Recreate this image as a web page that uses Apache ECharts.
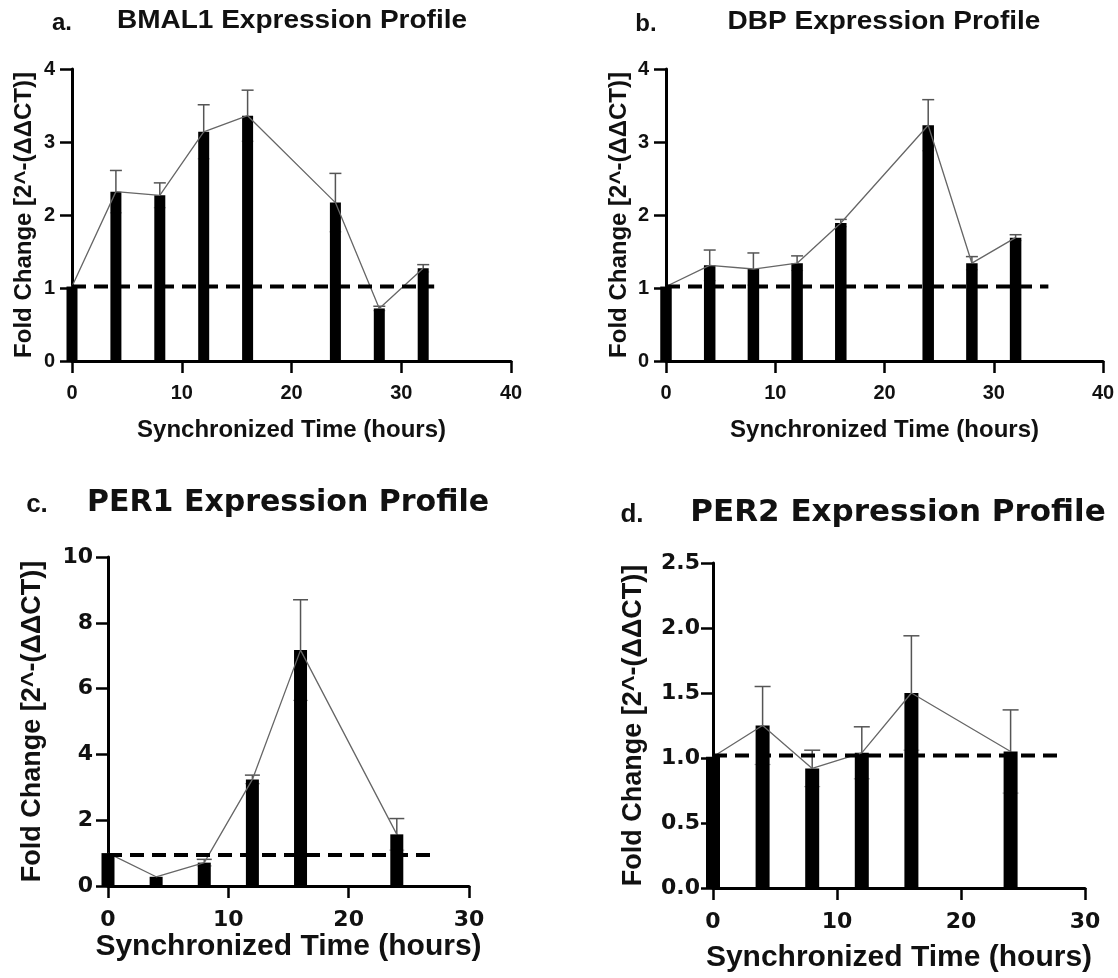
<!DOCTYPE html>
<html>
<head>
<meta charset="utf-8">
<script src="https://cdn.jsdelivr.net/npm/echarts@6/dist/echarts.min.js"></script>
<style>
html,body{margin:0;padding:0;background:#fff;}
#chart{width:1118px;height:978px;}
</style>
</head>
<body>
<div id="chart"></div>
<script>
// ---------- DATA ----------
const xAxisTitle = "Synchronized Time (hours)";
const yAxisTitle = "Fold Change [2^-(\u0394\u0394CT)]";

const letterA = "a.", titleA = "BMAL1 Expression Profile";
const timesA = [0, 4, 8, 12, 16, 24, 28, 32];
const meanA  = [1.02, 2.32, 2.27, 3.14, 3.36, 2.17, 0.72, 1.27];
const errA   = [0, 0.29, 0.17, 0.37, 0.35, 0.40, 0.03, 0.05];
const refA   = [[0, 1.02], [33, 1.02]];

const letterB = "b.", titleB = "DBP Expression Profile";
const timesB = [0, 4, 8, 12, 16, 24, 28, 32];
const meanB  = [1.02, 1.31, 1.26, 1.34, 1.89, 3.23, 1.34, 1.69];
const errB   = [0, 0.21, 0.22, 0.10, 0.05, 0.35, 0.09, 0.04];
const refB   = [[0, 1.02], [35, 1.02]];

const letterC = "c.", titleC = "PER1 Expression Profile";
const timesC = [0, 4, 8, 12, 16, 24];
const meanC  = [1.0, 0.28, 0.71, 3.24, 7.17, 1.57];
const errC   = [0, 0, 0.10, 0.13, 1.53, 0.48];
const refC   = [[0, 0.94], [27, 0.94]];

const letterD = "d.", titleD = "PER2 Expression Profile";
const timesD = [0, 4, 8, 12, 16, 24];
const meanD  = [1.01, 1.25, 0.92, 1.04, 1.50, 1.05];
const errD   = [0, 0.30, 0.14, 0.20, 0.44, 0.32];
const refD   = [[0, 1.02], [28, 1.02]];

// ---------- LAYOUT ----------
const ARIAL = "'Liberation Sans', Arial, sans-serif";
const DEJA = "'DejaVu Sans', Verdana, sans-serif";

const panels = [
  {times: timesA, mean: meanA, err: errA, ref: refA,
   grid: {left: 72, top: 69, width: 439, height: 292},
   xMax: 40, yMax: 4, yInt: 1, yFmt: v => String(v),
   barW: 11, capW: 12, tickFont: 20, tickFam: ARIAL, nameFont: 24, xNameFont: 24,
   yLabMargin: 17, xLabMargin: 22, yNameGap: 36, xNameGap: 57},
  {times: timesB, mean: meanB, err: errB, ref: refB,
   grid: {left: 666, top: 69, width: 437, height: 292},
   xMax: 40, yMax: 4, yInt: 1, yFmt: v => String(v),
   barW: 11.5, capW: 12, tickFont: 20, tickFam: ARIAL, nameFont: 24, xNameFont: 24,
   yLabMargin: 17, xLabMargin: 22, yNameGap: 35, xNameGap: 57},
  {times: timesC, mean: meanC, err: errC, ref: refC,
   grid: {left: 108, top: 557, width: 361, height: 329},
   xMax: 30, yMax: 10, yInt: 2, yFmt: v => String(v),
   barW: 13, capW: 15, tickFont: 22, tickFam: DEJA, nameFont: 27, xNameFont: 30,
   yLabMargin: 15, xLabMargin: 23, yNameGap: 62, xNameGap: 42},
  {times: timesD, mean: meanD, err: errD, ref: refD,
   grid: {left: 713, top: 563, width: 372, height: 325},
   xMax: 30, yMax: 2.5, yInt: 0.5, yFmt: v => v.toFixed(1),
   barW: 14, capW: 16, tickFont: 22, tickFam: DEJA, nameFont: 27, xNameFont: 30,
   yLabMargin: 13, xLabMargin: 23, yNameGap: 66, xNameGap: 55}
];

const grids = [], xAxes = [], yAxes = [], series = [];
panels.forEach((p, i) => {
  grids.push(Object.assign({containLabel: false}, p.grid));
  const axisLine = {show: true, onZero: false, lineStyle: {color: '#000', width: 3}};
  const axisTick = {show: true, length: 12, lineStyle: {color: '#000', width: 2.5}};
  xAxes.push({
    type: 'value', gridIndex: i, min: 0, max: p.xMax, interval: 10,
    axisLine, axisTick, splitLine: {show: false},
    axisLabel: {color: '#111', fontFamily: p.tickFam, fontWeight: 'bold', fontSize: p.tickFont, margin: p.xLabMargin},
    name: xAxisTitle, nameLocation: 'middle', nameGap: p.xNameGap,
    nameTextStyle: {color: '#111', fontFamily: ARIAL, fontWeight: 'bold', fontSize: p.xNameFont}
  });
  yAxes.push({
    type: 'value', gridIndex: i, min: 0, max: p.yMax, interval: p.yInt,
    axisLine, axisTick, splitLine: {show: false},
    axisLabel: {color: '#111', fontFamily: p.tickFam, fontWeight: 'bold', fontSize: p.tickFont, margin: p.yLabMargin, formatter: p.yFmt},
    name: yAxisTitle, nameLocation: 'middle', nameGap: p.yNameGap,
    nameTextStyle: {color: '#111', fontFamily: ARIAL, fontWeight: 'bold', fontSize: p.nameFont}
  });
  const pts = p.times.map((t, k) => [t, p.mean[k]]);
  const errPts = p.times.map((t, k) => [t, p.mean[k], p.err[k]]);
  const capW = p.capW;
  series.push({
    type: 'custom', xAxisIndex: i, yAxisIndex: i, z: 1, clip: false,
    data: errPts, silent: true,
    renderItem: function (params, api) {
      const x = api.value(0), m = api.value(1), e = api.value(2);
      if (!e) return null;
      const top = api.coord([x, m + e]);
      const bot = api.coord([x, m - e]);
      const hw = capW / 2;
      const st = {stroke: '#555', lineWidth: 1.5};
      return {type: 'group', children: [
        {type: 'line', shape: {x1: top[0], y1: top[1], x2: bot[0], y2: bot[1]}, style: st},
        {type: 'line', shape: {x1: top[0] - hw, y1: top[1], x2: top[0] + hw, y2: top[1]}, style: st},
        {type: 'line', shape: {x1: bot[0] - hw, y1: bot[1], x2: bot[0] + hw, y2: bot[1]}, style: {stroke: '#aaa', lineWidth: 1.2}}
      ]};
    }
  });
  series.push({
    type: 'bar', xAxisIndex: i, yAxisIndex: i, z: 2, clip: false,
    data: pts, barWidth: p.barW, itemStyle: {color: '#000'}, silent: true
  });
  series.push({
    type: 'line', xAxisIndex: i, yAxisIndex: i, z: 3, clip: false,
    data: pts, showSymbol: false, symbol: 'none',
    lineStyle: {color: '#666', width: 1.3}, silent: true
  });
  series.push({
    type: 'line', xAxisIndex: i, yAxisIndex: i, z: 4, clip: false,
    data: p.ref, showSymbol: false, symbol: 'none',
    lineStyle: {color: '#000', width: 4, type: [14, 8]}, silent: true
  });
});

function txt(text, x, y, font, scaleX) {
  return {type: 'text', x: x, y: y, scaleX: scaleX || 1, silent: true,
    style: {text: text, font: font, fill: '#111', align: 'center', verticalAlign: 'middle',
            textAlign: 'center', textVerticalAlign: 'middle'}};
}

const graphics = [
  txt(letterA, 62, 23, "bold 24px " + ARIAL),
  txt(titleA, 292, 21, "bold 25px " + ARIAL, 1.12),
  txt(letterB, 646, 24, "bold 24px " + ARIAL),
  txt(titleB, 884, 22, "bold 25px " + ARIAL, 1.12),
  txt(letterC, 37, 505, "bold 26px " + ARIAL),
  txt(titleC, 288, 503, "bold 30px " + DEJA),
  txt(letterD, 632, 515, "bold 26px " + ARIAL),
  txt(titleD, 898, 513, "bold 31px " + DEJA)
];

const chart = echarts.init(document.getElementById('chart'), null, {renderer: 'canvas'});
chart.setOption({
  animation: false,
  backgroundColor: '#fff',
  grid: grids,
  xAxis: xAxes,
  yAxis: yAxes,
  series: series,
  graphic: graphics
});
</script>
</body>
</html>
